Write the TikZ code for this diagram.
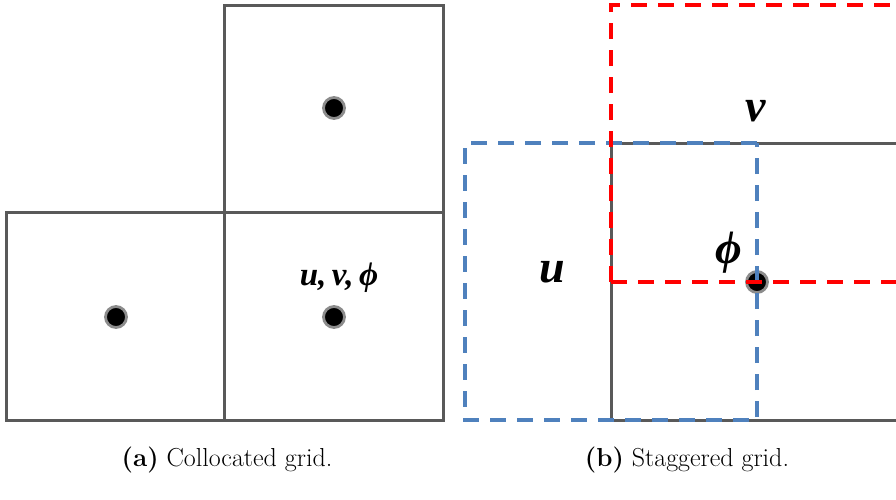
\documentclass[tikz,border=0pt]{standalone}
\usepackage{fontspec}
\newfontfamily\labfont{Liberation Serif}
\begin{document}
\begin{tikzpicture}[x=1pt,y=-1pt,
  cellline/.style={draw=black!65,line width=3pt},
  reddash/.style={draw=red,line width=3.2pt,dash pattern=on 16pt off 11pt},
  bluedash/.style={draw={rgb,255:red,79;green,129;blue,189},line width=3.2pt,dash pattern=on 16pt off 11pt},
  dotnode/.style={circle,fill=black,draw=black!45,line width=2.8pt,inner sep=0pt,minimum size=21pt},
  lab/.style={font=\labfont\bfseries\itshape\fontsize{33}{36}\selectfont,inner sep=0pt},
  biglab/.style={font=\labfont\bfseries\itshape\fontsize{46}{50}\selectfont,inner sep=0pt},
  captext/.style={font=\fontsize{26}{30}\selectfont,inner sep=0pt}]
\useasboundingbox (0,0) rectangle (896,499);
% left panel
\draw[cellline] (6,212) rectangle (224,420);
\draw[cellline] (224,212) rectangle (443,420);
\draw[cellline] (224,5) rectangle (443,212);
\node[dotnode] (d1) at (116,317) {};
\node[dotnode] (d2) at (334,317) {};
\node[dotnode] (d3) at (334,108) {};
\node[lab] (l1) at (339,278) {u,\,v,\,ϕ};
% right panel
\begin{scope}
\clip (450,0) rectangle (896,499);
\draw[cellline] (930,143) -- (611,143) -- (611,420) -- (930,420);
\node[dotnode] (d4) at (757,282) {};
\draw[bluedash] (757,143) -- (465,143) -- (465,420) -- (757,420) -- cycle;
\draw[reddash] (611,282) -- (611,5) -- (930,5);
\draw[reddash] (611,282) -- (930,282);
\end{scope}
\node[biglab] (lv) at (756,111) {v};
\node[biglab] (lu) at (552,272) {u};
\node[biglab] (lphi) at (729,253) {ϕ};
% captions
\node[captext] (ca) at (227,460) {\textbf{(a)} Collocated grid.};
\node[captext] (cb) at (687,460) {\textbf{(b)} Staggered grid.};
\end{tikzpicture}
\end{document}
